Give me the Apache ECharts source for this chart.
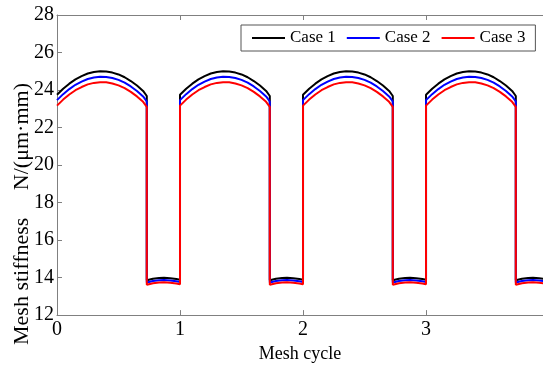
<!DOCTYPE html>
<html>
<head>
<meta charset="utf-8">
<script src="https://cdn.jsdelivr.net/npm/echarts@6/dist/echarts.min.js"></script>
<style>
  html, body { margin: 0; padding: 0; background: #fff; }
  #chart { width: 543px; height: 368px; }
</style>
</head>
<body>
<div id="chart"></div>
<script>
// One mesh cycle: positions inside the cycle (fraction of a cycle)
const highX = [0, 0.05, 0.10, 0.15, 0.20, 0.25, 0.30, 0.35, 0.40, 0.45, 0.50, 0.55, 0.60, 0.65, 0.70, 0.73];
const lowX  = [0.73, 0.78, 0.83, 0.87, 0.92, 0.97, 1.00];
const cycles = [0, 1, 2, 3];

// Double-tooth contact stiffness (N/(μm·mm))
const case1High = [23.75, 24.07, 24.34, 24.57, 24.74, 24.88, 24.96, 25.00, 24.99, 24.93, 24.83, 24.68, 24.48, 24.24, 23.95, 23.68];
const case2High = [23.46, 23.78, 24.05, 24.28, 24.45, 24.59, 24.67, 24.71, 24.70, 24.64, 24.54, 24.39, 24.19, 23.95, 23.66, 23.39];
const case3High = [23.17, 23.49, 23.76, 23.99, 24.16, 24.30, 24.38, 24.42, 24.41, 24.35, 24.25, 24.10, 23.90, 23.66, 23.37, 23.10];

// Single-tooth contact stiffness (N/(μm·mm))
const case1Low = [13.86, 13.94, 13.98, 13.99, 13.97, 13.92, 13.88];
const case2Low = [13.74, 13.82, 13.86, 13.87, 13.85, 13.80, 13.76];
const case3Low = [13.62, 13.70, 13.74, 13.75, 13.73, 13.68, 13.64];

const seriesNames = ['Case 1', 'Case 2', 'Case 3'];
const seriesColors = ['#000000', '#0000ff', '#ff0000'];
const xTicks = [0, 1, 2, 3];

function buildSeries(high, low) {
  const pts = [];
  cycles.forEach(c => {
    highX.forEach((x, i) => pts.push([c + x, high[i]]));
    lowX.forEach((x, i) => pts.push([c + x, low[i]]));
  });
  return pts;
}

const seriesData = [
  buildSeries(case1High, case1Low),
  buildSeries(case2High, case2Low),
  buildSeries(case3High, case3Low)
];

const FONT = "'Liberation Serif', 'Times New Roman', serif";
const AXIS_COLOR = '#808080';

const chart = echarts.init(document.getElementById('chart'), null, { renderer: 'canvas' });

const xMax = 3.951;

chart.setOption({
  animation: false,
  backgroundColor: '#ffffff',
  grid: { left: 57, right: 0, top: 15, bottom: 43, containLabel: false },
  legend: {
    left: 241,
    top: 25,
    padding: [3, 10, 3, 11],
    itemGap: 11,
    itemWidth: 33,
    itemHeight: 2,
    icon: 'rect',
    borderColor: '#555555',
    borderWidth: 1,
    backgroundColor: '#ffffff',
    textStyle: { fontFamily: FONT, fontSize: 17, color: '#000', lineHeight: 20 },
    data: seriesNames
  },
  xAxis: [
    {
      type: 'value',
      min: 0,
      max: xMax,
      interval: 1,
      position: 'bottom',
      name: 'Mesh cycle',
      nameLocation: 'middle',
      nameGap: 22,
      nameTextStyle: { fontFamily: FONT, fontSize: 18, color: '#000' },
      axisLine: { show: true, lineStyle: { color: AXIS_COLOR, width: 1 } },
      axisTick: { show: true, inside: true, length: 5, lineStyle: { color: AXIS_COLOR } },
      axisLabel: {
        fontFamily: FONT, fontSize: 20, color: '#000', margin: 5,
        showMaxLabel: false,
        formatter: v => (xTicks.indexOf(v) >= 0 ? String(v) : '')
      },
      splitLine: { show: false }
    },
    {
      type: 'value',
      min: 0,
      max: xMax,
      interval: 1,
      position: 'top',
      axisLine: { show: true, lineStyle: { color: AXIS_COLOR, width: 1 } },
      axisTick: { show: true, inside: true, length: 5, lineStyle: { color: AXIS_COLOR } },
      axisLabel: { show: false },
      splitLine: { show: false }
    }
  ],
  yAxis: {
    type: 'value',
    min: 12,
    max: 28,
    interval: 2,
    axisLine: { show: true, lineStyle: { color: AXIS_COLOR, width: 1 } },
    axisTick: { show: true, inside: true, length: 5, lineStyle: { color: AXIS_COLOR } },
    axisLabel: { fontFamily: FONT, fontSize: 20, color: '#000', margin: 3 },
    splitLine: { show: false }
  },
  graphic: [
    {
      type: 'text',
      x: 22,
      y: 214,
      rotation: Math.PI / 2,
      style: {
        text: 'Mesh stiffness     N/(μm·mm)',
        fontFamily: FONT,
        fontSize: 22,
        fill: '#000',
        textAlign: 'center',
        textVerticalAlign: 'middle'
      }
    }
  ],
  series: seriesNames.map((name, i) => ({
    name: name,
    type: 'line',
    xAxisIndex: 0,
    data: seriesData[i],
    showSymbol: false,
    symbol: 'none',
    clip: true,
    lineStyle: { color: seriesColors[i], width: 2 },
    itemStyle: { color: seriesColors[i] },
    z: 2 + i
  }))
});
</script>
</body>
</html>
